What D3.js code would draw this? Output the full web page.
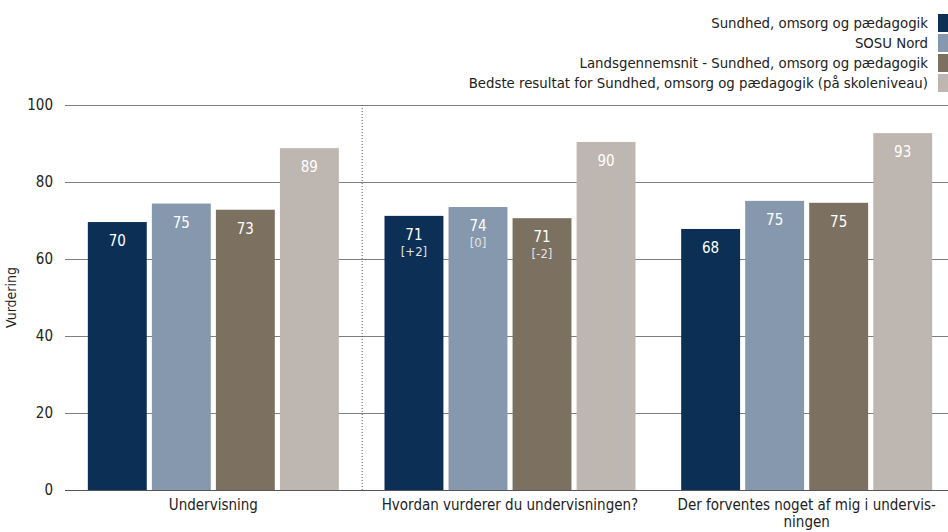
<!DOCTYPE html>
<html>
<head>
<meta charset="utf-8">
<script src="https://cdn.jsdelivr.net/npm/d3@7"></script>
<style>
  body { margin: 0; background: #fff; }
  svg { display: block; font-family: Tahoma, "DejaVu Sans Condensed", "DejaVu Sans", sans-serif; }
</style>
</head>
<body>
<div id="chart"></div>
<script>
// categories and series
var categories = ["Undervisning", "Hvordan vurderer du undervisningen?", "Der forventes noget af mig i undervis-\nningen"];
var seriesNames = [
    "Sundhed, omsorg og pædagogik",
    "SOSU Nord",
    "Landsgennemsnit - Sundhed, omsorg og pædagogik",
    "Bedste resultat for Sundhed, omsorg og pædagogik (på skoleniveau)"
];
var seriesColors = ["#0c2f56", "#8598ad", "#7c7060", "#beb6b0"];

// values per series (one value per category)
var sundhed = [69.6, 71.2, 67.8];
var sosuNord = [74.4, 73.5, 75.1];
var landsgns = [72.8, 70.6, 74.6];
var bedste = [88.8, 90.4, 92.7];
var seriesValues = [sundhed, sosuNord, landsgns, bedste];

// printed labels and change labels
var valueLabels = [["70", "71", "68"], ["75", "74", "75"], ["73", "71", "75"], ["89", "90", "93"]];
var changeLabels = [["", "[+2]", ""], ["", "[0]", ""], ["", "[-2]", ""], ["", "", ""]];

var yTicks = [0, 20, 40, 60, 80, 100];

var width = 948, height = 532;
var margin = {top: 105, right: -7, bottom: 42, left: 65};
var chartWidth = width - margin.left - margin.right;
var chartHeight = height - margin.top - margin.bottom;

var svg = d3.select("#chart").append("svg")
    .attr("width", width)
    .attr("height", height);

var g = svg.append("g")
    .attr("transform", `translate(${margin.left}, ${margin.top})`);

var x0 = d3.scaleBand()
    .domain(categories)
    .range([0, chartWidth])
    .paddingInner(0)
    .paddingOuter(0);

var groupWidth = 251;
var x1 = d3.scaleBand()
    .domain(d3.range(seriesNames.length))
    .range([(x0.bandwidth() - groupWidth) / 2, (x0.bandwidth() + groupWidth) / 2])
    .paddingInner(0.08)
    .paddingOuter(0);

var y = d3.scaleLinear()
    .domain([0, 100])
    .range([chartHeight, 0]);

// gridlines
g.append("g")
    .selectAll("line")
    .data(yTicks.filter(d => d > 0))
    .enter()
    .append("line")
    .attr("x1", 0)
    .attr("x2", width - margin.left)
    .attr("y1", d => y(d) + 0.5)
    .attr("y2", d => y(d) + 0.5)
    .attr("stroke", "#7f7f7f")
    .attr("stroke-width", 1);

// y tick labels
g.append("g")
    .selectAll("text")
    .data(yTicks)
    .enter()
    .append("text")
    .attr("x", -12)
    .attr("y", d => y(d))
    .attr("dy", "0.35em")
    .attr("text-anchor", "end")
    .attr("font-size", "15px")
    .attr("fill", "#222")
    .text(d => d);

// y axis title
g.append("text")
    .attr("transform", `translate(${-49}, ${chartHeight / 2}) rotate(-90)`)
    .attr("text-anchor", "middle")
    .attr("font-size", "14px")
    .attr("fill", "#222")
    .text("Vurdering");

// dotted separator after first category
g.append("line")
    .attr("x1", x0(categories[1]) + 0.5)
    .attr("x2", x0(categories[1]) + 0.5)
    .attr("y1", 0)
    .attr("y2", chartHeight)
    .attr("stroke", "#555")
    .attr("stroke-dasharray", "1,2");

// bars
var groups = g.selectAll(".group")
    .data(categories)
    .enter()
    .append("g")
    .attr("class", "group")
    .attr("transform", d => `translate(${x0(d)}, 0)`);

groups.each(function(cat, ci) {
    var grp = d3.select(this);
    seriesValues.forEach(function(vals, si) {
        var v = vals[ci];
        grp.append("rect")
            .attr("x", x1(si))
            .attr("y", y(v))
            .attr("width", x1.bandwidth())
            .attr("height", chartHeight - y(v))
            .attr("fill", seriesColors[si]);
        grp.append("text")
            .attr("x", x1(si) + x1.bandwidth() / 2)
            .attr("y", y(v) + 24)
            .attr("text-anchor", "middle")
            .attr("font-size", "15px")
            .attr("fill", "#ffffff")
            .text(valueLabels[si][ci]);
        if (changeLabels[si][ci]) {
            grp.append("text")
                .attr("x", x1(si) + x1.bandwidth() / 2)
                .attr("y", y(v) + 40)
                .attr("text-anchor", "middle")
                .attr("font-size", "13px")
                .attr("fill", "#e2e2e2")
                .text(changeLabels[si][ci]);
        }
    });
});

// x axis line
g.append("line")
    .attr("x1", 0)
    .attr("x2", width - margin.left)
    .attr("y1", chartHeight + 0.5)
    .attr("y2", chartHeight + 0.5)
    .attr("stroke", "#555");

// category labels
g.append("g")
    .selectAll("text")
    .data(categories)
    .enter()
    .append("text")
    .attr("x", d => x0(d) + x0.bandwidth() / 2)
    .attr("y", chartHeight + 20)
    .attr("text-anchor", "middle")
    .attr("font-size", "15px")
    .attr("fill", "#222")
    .each(function(d) {
        var lines = d.split("\n");
        var t = d3.select(this);
        lines.forEach(function(line, i) {
            t.append("tspan")
                .attr("x", x0(d) + x0.bandwidth() / 2)
                .attr("dy", i === 0 ? 0 : "1.1em")
                .text(line);
        });
    });

// legend
var legend = svg.append("g")
    .selectAll("g")
    .data(seriesNames)
    .enter()
    .append("g")
    .attr("transform", (d, i) => `translate(0, ${14 + i * 20})`);

legend.append("rect")
    .attr("x", 938)
    .attr("y", 0)
    .attr("width", 11)
    .attr("height", 18)
    .attr("fill", (d, i) => seriesColors[i]);

legend.append("text")
    .attr("x", 928)
    .attr("y", 9)
    .attr("dy", "0.35em")
    .attr("text-anchor", "end")
    .attr("font-size", "14.8px")
    .attr("fill", "#222")
    .text(d => d);
</script>
</body>
</html>
